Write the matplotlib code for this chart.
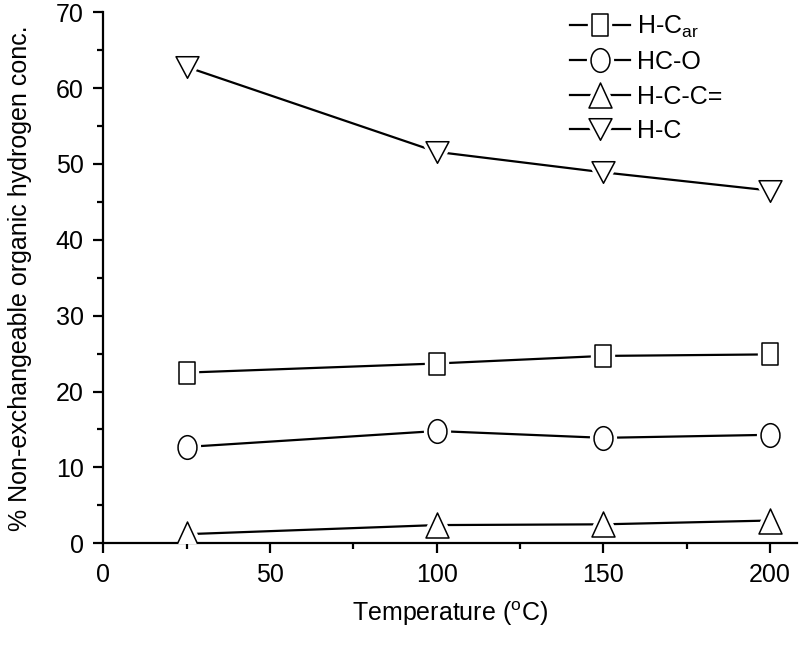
import numpy as np
import matplotlib.pyplot as plt
from matplotlib.path import Path
from matplotlib.legend_handler import HandlerTuple

plt.rcParams['font.family'] = ['Liberation Sans', 'DejaVu Sans']
plt.rcParams['mathtext.default'] = 'regular'

temps = [25, 100, 150, 200]
h_car = [22.5, 23.7, 24.7, 24.9]
hc_o = [12.7, 14.8, 13.9, 14.3]
h_c_c = [1.2, 2.4, 2.5, 3.0]
h_c = [62.8, 51.6, 48.9, 46.5]
labels = ['H-C$_{ar}$', 'HC-O', 'H-C-C=', 'H-C']


# the source picture is a bit taller than wide, so the markers are too
def box(w, h):
    return Path([(-w, -h), (w, -h), (w, h), (-w, h), (-w, -h)],
                [1, 2, 2, 2, 79])


def ellipse(w, h):
    c = Path.unit_circle()
    return Path(c.vertices * [w, h], c.codes)


def tri(w, h, up=True):
    s = 1 if up else -1
    return Path([(-w, -s * h), (w, -s * h), (0, s * h), (-w, -s * h)],
                [1, 2, 2, 79])


markers = [box(0.36, 0.5), ellipse(0.4, 0.5), tri(0.46, 0.5), tri(0.5, 0.47, up=False)]
sizes = [16.5, 17, 18, 16.5]
series = [h_car, hc_o, h_c_c, h_c]

fig = plt.figure(figsize=(8, 6.46), dpi=100)
ax = fig.add_axes([0.129, 0.159, 0.867, 0.822])

handles = []
for ys, mk, ms, lab in zip(series, markers, sizes, labels):
    ln, = ax.plot(temps, ys, color='black', lw=1.6, zorder=1)
    halo, = ax.plot(temps, ys, ls='none', marker=mk, ms=ms, mfc='white',
                    mec='white', mew=6, zorder=2)
    mark, = ax.plot(temps, ys, ls='none', marker=mk, ms=ms, mfc='white',
                    mec='black', mew=1.1, zorder=3)
    handles.append((ln, halo, mark))

ax.legend(handles=handles, labels=labels, handler_map={tuple: HandlerTuple(ndivide=1)},
          loc='upper left', bbox_to_anchor=(0.64, 1.04), frameon=False,
          fontsize=18, handlelength=2.4, labelspacing=0.42, handletextpad=0.3)

ax.set_xlim(0, 208)
ax.set_ylim(0, 70)
ax.set_xticks([0, 50, 100, 150, 200])
ax.set_xticks([25, 75, 125, 175], minor=True)
ax.set_yticks(range(0, 71, 10))
ax.set_yticks(range(5, 70, 10), minor=True)

for s in ['top', 'right']:
    ax.spines[s].set_visible(False)
for s in ['left', 'bottom']:
    ax.spines[s].set_linewidth(1.6)

ax.tick_params(which='major', length=7, width=1.6, labelsize=18, pad=7, direction='out')
ax.tick_params(which='minor', length=4, width=1.6, direction='out')

ax.set_xlabel('Temperature ($^{o}$C)', fontsize=18, labelpad=9)
ax.set_ylabel('% Non-exchangeable organic hydrogen conc.', fontsize=18, labelpad=17)

fig.savefig('out.png', dpi=100)
